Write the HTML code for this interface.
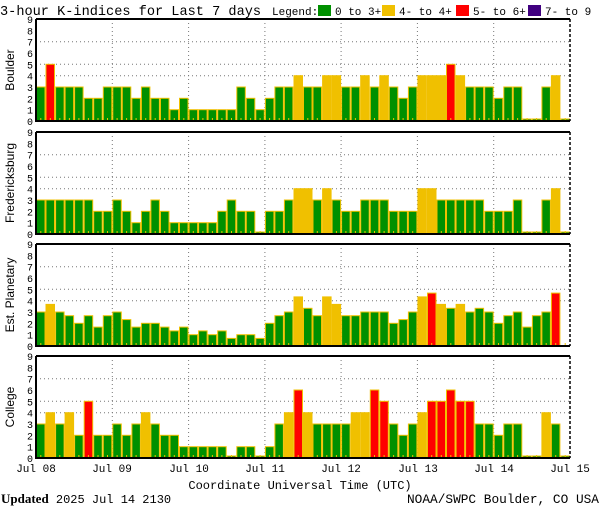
<!DOCTYPE html>
<html><head><meta charset="utf-8"><style>
html,body{margin:0;padding:0;background:#fff;}
svg{display:block;font-family:"Liberation Mono","DejaVu Sans Mono",monospace;}
</style></head><body>
<svg id="s" width="600" height="510" viewBox="0 0 600 510" xmlns="http://www.w3.org/2000/svg">
<rect width="600" height="510" fill="#fff"/>
<text x="0" y="15" font-size="13.6">3-hour K-indices for Last 7 days</text>
<text x="272" y="15" font-size="11">Legend:</text>
<rect x="318" y="5" width="13" height="11" fill="#009000"/>
<text x="335" y="15" font-size="11">0 to 3+</text>
<rect x="382" y="5" width="13" height="11" fill="#f0c000"/>
<text x="399" y="15" font-size="11">4- to 4+</text>
<rect x="456" y="5" width="13" height="11" fill="#ff0000"/>
<text x="473" y="15" font-size="11">5- to 6+</text>
<rect x="528" y="5" width="13" height="11" fill="#400080"/>
<text x="545" y="15" font-size="11">7- to 9</text>
<g font-size="12" font-family="Liberation Sans, sans-serif" text-anchor="middle">
<text transform="translate(14,70) rotate(-90)">Boulder</text>
<text transform="translate(14,183) rotate(-90)">Fredericksburg</text>
<text transform="translate(14,295) rotate(-90)">Est. Planetary</text>
<text transform="translate(14,407) rotate(-90)">College</text>
</g>
<g font-size="11" text-anchor="middle">
<text x="36" y="472">Jul 08</text>
<text x="112" y="472">Jul 09</text>
<text x="189" y="472">Jul 10</text>
<text x="265" y="472">Jul 11</text>
<text x="341" y="472">Jul 12</text>
<text x="418" y="472">Jul 13</text>
<text x="494" y="472">Jul 14</text>
<text x="570" y="472">Jul 15</text>
<text x="300" y="489" font-size="12">Coordinate Universal Time (UTC)</text>
</g>
<text x="1" y="503" font-size="12"><tspan font-weight="bold" font-family="Liberation Serif, serif" font-size="13">Updated</tspan> 2025 Jul 14 2130</text>
<text x="599" y="503" font-size="12.8" text-anchor="end">NOAA/SWPC Boulder, CO USA</text>
<g id="g"></g>
</svg>
<script>
var D=[
[3,5,3,3,3,2,2,3, 3,3,2,3,2,2,1,2, 1,1,1,1,1,3,2,1, 2,3,3,4,3,3,4,4, 3,3,4,3,4,3,2,3, 4,4,4,5,4,3,3,3, 2,3,3,0,0,3,4,0],
[3,3,3,3,3,3,2,2, 3,2,1,2,3,2,1,1, 1,1,1,2,3,2,2,0, 2,2,3,4,4,3,4,3, 2,2,3,3,3,2,2,2, 4,4,3,3,3,3,3,2, 2,2,3,0,0,3,4,0],
[3,3.67,3,2.67,2,2.67,1.67,2.67, 3,2.33,1.67,2,2,1.67,1.33,1.67, 1,1.33,1,1.33,0.67,1,1,0.67, 2,2.67,3,4.33,3.33,2.67,4.33,3.67, 2.67,2.67,3,3,3,2,2.33,3, 4.33,4.67,3.67,3.33,3.67,3,3.33,3, 2,2.67,3,1.67,2.67,3,4.67,null],
[3,4,3,4,2,5,2,2, 3,2,3,4,3,2,2,1, 1,1,1,1,0,1,1,0, 1,3,4,6,4,3,3,3, 3,4,4,6,5,3,2,3, 4,5,5,6,5,5,3,3, 2,3,3,0,0,4,3,0]];
var tops=[19,132,244,356],H=102,U=H/9,X0=36,W=534,BW=W/56;
var s='';
function col(v){return v<3.5?'#009000':v<4.5?'#f0c000':v<6.5?'#ff0000':'#400080';}
for(var p=0;p<4;p++){var t=tops[p],b=t+H;
 [4,5,7].forEach(function(k){var y=(b-k*U).toFixed(1);s+='<line x1="'+X0+'" x2="570" y1="'+y+'" y2="'+y+'" stroke="#777" stroke-dasharray="1,3"/>';});
 for(var d=1;d<7;d++){var x=(X0+d*W/7).toFixed(1);s+='<line x1="'+x+'" x2="'+x+'" y1="'+t+'" y2="'+b+'" stroke="#777" stroke-dasharray="1,3"/>';}
 for(var i=0;i<56;i++){var v=D[p][i];var x=X0+i*BW;
  if(v!==null){var h=Math.max(v*U,2);s+='<rect x="'+(x+0.5).toFixed(1)+'" y="'+(b-h).toFixed(1)+'" width="'+(BW-1).toFixed(1)+'" height="'+h.toFixed(1)+'" fill="'+col(v)+'" stroke="#f0c000" stroke-width="1"/>';}
  s+='<rect x="'+(x+BW/2-0.5).toFixed(1)+'" y="'+(b-3)+'" width="1" height="3" fill="#f0c000"/>';}
 s+='<path d="M'+X0+' '+t+'H570M'+X0+' '+t+'V'+b+'H570" stroke="#000" stroke-width="2" fill="none"/>';
 s+='<line x1="570" x2="570" y1="'+t+'" y2="'+b+'" stroke="#000" stroke-width="1.5" stroke-dasharray="3,2"/>';
 for(var k=0;k<=9;k++){s+='<text x="33" y="'+(b-k*U+4).toFixed(1)+'" font-size="10" text-anchor="end">'+k+'</text>';}
}
document.getElementById('g').innerHTML=s;
</script>
</body></html>
